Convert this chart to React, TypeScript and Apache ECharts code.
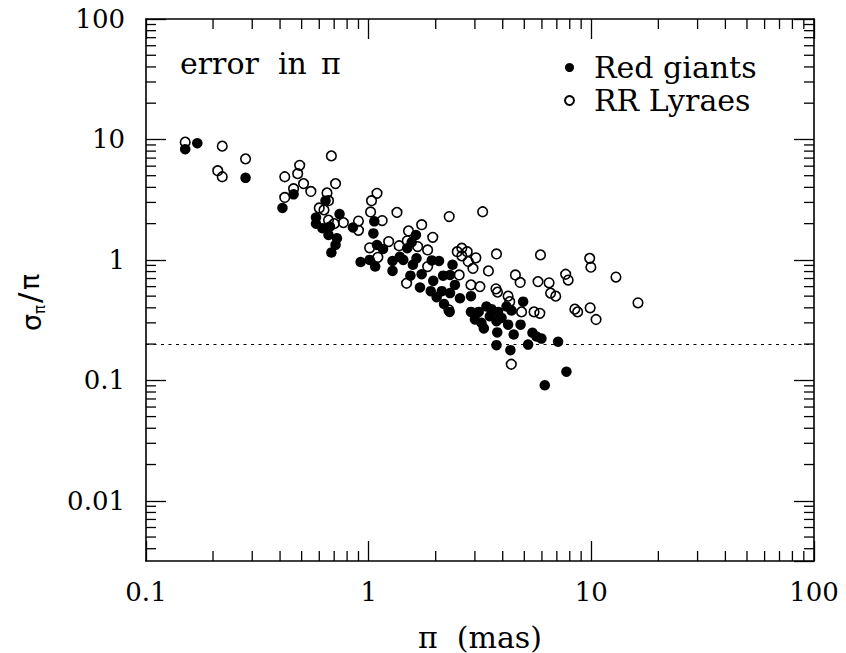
import React, { useEffect, useRef } from 'react';
import * as echarts from 'echarts';

// Red giants: [parallax (mas), sigma_pi / pi]
const redGiants: [number, number][] = [
  [0.15, 8.3], [0.17, 9.3], [0.28, 4.8], [0.41, 2.7], [0.46, 3.5], [0.64, 3.1], [0.74, 2.4],
  [0.58, 2.25], [0.58, 2.0], [0.62, 1.83], [0.67, 1.89], [0.66, 1.61], [0.72, 1.51], [0.71, 1.33],
  [0.68, 1.15], [0.85, 1.86], [1.06, 2.09], [1.05, 1.66], [1.09, 1.33], [0.92, 0.96], [1.01, 1.0],
  [1.07, 0.88], [1.16, 1.23], [1.28, 0.98], [1.28, 0.81], [1.38, 1.06], [1.43, 1.0], [1.49, 1.25],
  [1.56, 1.4], [1.63, 1.61], [1.58, 0.91], [1.54, 0.74], [1.64, 1.03], [1.73, 0.76], [1.7, 0.59],
  [1.92, 0.99], [2.07, 0.98], [1.95, 0.67], [1.9, 0.55], [2.02, 0.49], [2.13, 0.55], [2.18, 0.43],
  [2.31, 0.37], [2.16, 0.74], [2.32, 0.75], [2.38, 0.91], [2.44, 0.62], [2.57, 0.48], [2.32, 0.53],
  [2.88, 0.5], [2.88, 0.37], [3.12, 0.37], [3.0, 0.32], [3.29, 0.27], [3.38, 0.41], [3.56, 0.39],
  [3.5, 0.34], [3.81, 0.37], [3.95, 0.33], [3.78, 0.25], [4.23, 0.29], [4.81, 0.29], [4.48, 0.24],
  [4.16, 0.41], [4.38, 0.38], [4.94, 0.45], [3.21, 0.3], [3.75, 0.31], [3.75, 0.196], [4.33, 0.178],
  [5.2, 0.198], [5.44, 0.248], [5.67, 0.231], [5.97, 0.222], [7.09, 0.209], [7.73, 0.118], [6.18, 0.091],
];

// RR Lyraes: [parallax (mas), sigma_pi / pi]
const rrLyraes: [number, number][] = [
  [0.15, 9.5], [0.22, 8.8], [0.21, 5.5], [0.22, 4.9], [0.28, 6.9], [0.42, 4.9], [0.42, 3.3],
  [0.49, 6.1], [0.48, 5.2], [0.51, 4.3], [0.46, 3.9], [0.55, 3.7], [0.68, 7.3], [0.71, 4.3],
  [0.65, 3.6], [0.66, 3.1], [0.6, 2.7], [0.63, 2.6], [0.77, 2.04], [0.66, 2.14], [0.7, 2.0],
  [0.9, 2.1], [0.9, 1.76], [1.09, 3.57], [1.03, 3.1], [1.02, 2.5], [1.15, 2.12], [1.01, 1.26],
  [1.1, 1.05], [1.34, 2.48], [2.3, 2.29], [3.25, 2.51], [1.73, 1.96], [1.23, 1.42], [1.37, 1.31],
  [1.51, 1.74], [1.94, 1.54], [1.66, 1.29], [1.84, 1.21], [1.84, 0.88], [1.49, 1.44], [1.48, 0.64],
  [2.29, 0.385], [2.55, 0.75], [2.5, 1.17], [2.62, 1.25], [2.77, 1.17], [2.62, 1.08], [3.03, 1.04],
  [2.94, 0.85], [2.8, 0.97], [3.45, 0.81], [3.75, 1.12], [2.88, 0.62], [3.16, 0.6], [3.73, 0.575],
  [3.79, 0.54], [4.23, 0.5], [4.3, 0.45], [4.86, 0.37], [4.56, 0.75], [4.79, 0.65], [5.91, 1.1],
  [5.76, 0.66], [6.46, 0.645], [6.56, 0.53], [6.92, 0.5], [7.67, 0.76], [7.87, 0.68], [9.83, 1.03],
  [9.95, 0.87], [8.43, 0.39], [8.68, 0.37], [9.88, 0.4], [10.5, 0.32], [5.53, 0.37], [5.87, 0.36],
  [12.9, 0.72], [16.2, 0.44], [4.37, 0.136],
];

const seriesNames = ['Red giants', 'RR Lyraes'];
const xTickLabels = ['0.1', '1', '10', '100'];
const yTickLabels = ['0.01', '0.1', '1', '10', '100'];
const annotationWords = ['error', 'in', 'π'];
const yTitleParts = ['σ', 'π', '/', 'π'];
const xAxisTitle = 'π  (mas)';
const errorThreshold = 0.2;
const X_MIN = 0.1;
const X_MAX = 100;
const Y_MIN = Math.pow(10, -2.5);
const Y_MAX = 100;

function minorTickValues(lo: number, hi: number): number[] {
  const out: number[] = [];
  for (let e = -4; e <= 3; e++) {
    for (let m = 2; m <= 9; m++) {
      const v = +(m * Math.pow(10, e)).toPrecision(4);
      if (v > lo && v < hi) out.push(v);
    }
  }
  return out;
}

const SERIF = '"DejaVu Serif", "Liberation Serif", serif';
const SANS = '"DejaVu Sans", sans-serif';

function fmt(v: number, labels: string[]): string {
  const s = String(+Number(v).toPrecision(6));
  return labels.indexOf(s) >= 0 ? s : '';
}

export default function App() {
  const ref = useRef<HTMLDivElement>(null);

  useEffect(() => {
    document.body.style.margin = '0';
    if (!ref.current) return;
    const chart = echarts.init(ref.current, undefined, { renderer: 'svg' });

    const axisLine = { show: true, onZero: false, lineStyle: { color: '#000', width: 1.6 } };
    const majorTick = { show: true, inside: true, length: 20, lineStyle: { color: '#000', width: 1.3 } };

    const xMinor = minorTickValues(X_MIN, X_MAX).map((v) => [v, 1]);
    const yMinor = minorTickValues(Y_MIN, Y_MAX).map((v) => [1, v]);

    const tickStyle = { stroke: '#000', lineWidth: 1.3 };
    const wordX = [180, 278, 321];

    chart.setOption({
      animation: false,
      backgroundColor: '#fff',
      textStyle: { fontFamily: SERIF, color: '#000' },
      grid: { left: 146, right: 32, top: 19, bottom: 92, containLabel: false, outerBoundsMode: 'none' },
      legend: {
        data: [
          { name: seriesNames[0], icon: 'circle' },
          { name: seriesNames[1], icon: 'circle' },
        ],
        orient: 'vertical',
        left: 564,
        top: 51,
        padding: 0,
        itemWidth: 9,
        itemHeight: 9,
        itemGap: 0,
        selectedMode: false,
        textStyle: { fontFamily: SERIF, fontSize: 30, color: '#000', lineHeight: 33, padding: [0, 0, 0, 15] },
      },
      xAxis: [
        {
          type: 'log',
          min: X_MIN,
          max: X_MAX,
          position: 'bottom',
          axisLine,
          axisTick: majorTick,
          splitLine: { show: false },
          axisLabel: {
            color: '#000',
            fontFamily: SERIF,
            fontSize: 26,
            margin: 18,
            formatter: (v: number) => fmt(v, xTickLabels),
          },
          name: xAxisTitle,
          nameLocation: 'middle',
          nameGap: 61,
          nameTextStyle: { fontFamily: SERIF, fontSize: 30, color: '#000' },
        },
        {
          type: 'log',
          min: X_MIN,
          max: X_MAX,
          position: 'top',
          axisLine,
          axisTick: majorTick,
          splitLine: { show: false },
          axisLabel: { show: false },
        },
      ],
      yAxis: [
        {
          type: 'log',
          min: Y_MIN,
          max: Y_MAX,
          position: 'left',
          axisLine,
          axisTick: majorTick,
          splitLine: { show: false },
          axisLabel: {
            color: '#000',
            fontFamily: SERIF,
            fontSize: 26,
            margin: 21,
            showMinLabel: false,
            formatter: (v: number) => fmt(v, yTickLabels),
          },
        },
        {
          type: 'log',
          min: Y_MIN,
          max: Y_MAX,
          position: 'right',
          axisLine,
          axisTick: majorTick,
          splitLine: { show: false },
          axisLabel: { show: false },
        },
      ],
      graphic: [
        ...annotationWords.map((w, i) => ({
          type: 'text',
          x: wordX[i],
          y: 63,
          style: { text: w, font: `30px ${SERIF}`, fill: '#000', align: 'left', verticalAlign: 'middle' },
        })),
        {
          type: 'group',
          x: 31,
          y: 331,
          rotation: Math.PI / 2,
          children: [
            { type: 'text', x: 0, y: 0, style: { text: yTitleParts[0], font: `27px ${SANS}`, fill: '#000', align: 'left', verticalAlign: 'middle' } },
            { type: 'text', x: 17, y: 9, style: { text: yTitleParts[1], font: `15px ${SANS}`, fill: '#000', align: 'left', verticalAlign: 'middle' } },
            { type: 'text', x: 28, y: -2, style: { text: yTitleParts[2], font: `31px ${SANS}`, fill: '#000', align: 'left', verticalAlign: 'middle' } },
            { type: 'text', x: 41, y: -2, style: { text: yTitleParts[3], font: `27px ${SANS}`, fill: '#000', align: 'left', verticalAlign: 'middle' } },
          ],
        },
      ],
      series: [
        {
          name: seriesNames[1],
          type: 'scatter',
          data: rrLyraes,
          symbol: 'circle',
          symbolSize: 9.6,
          itemStyle: { color: 'rgba(255,255,255,0)', borderColor: '#000', borderWidth: 1.6, opacity: 1 },
          emphasis: { disabled: true },
          silent: true,
        },
        {
          name: seriesNames[0],
          type: 'scatter',
          data: redGiants,
          symbol: 'circle',
          symbolSize: 10.5,
          itemStyle: { color: '#000', opacity: 1 },
          emphasis: { disabled: true },
          silent: true,
          markLine: {
            silent: true,
            symbol: ['none', 'none'],
            label: { show: false },
            lineStyle: { color: '#000', width: 1.2, type: [3, 4.5] },
            data: [{ yAxis: errorThreshold }],
          },
        },
        {
          type: 'custom',
          silent: true,
          data: xMinor,
          renderItem: (params: any, api: any) => {
            const cs = params.coordSys;
            const p = api.coord([api.value(0), api.value(1)]);
            const bottom = cs.y + cs.height;
            return {
              type: 'group',
              children: [
                { type: 'line', shape: { x1: p[0], y1: bottom, x2: p[0], y2: bottom - 10 }, style: tickStyle },
                { type: 'line', shape: { x1: p[0], y1: cs.y, x2: p[0], y2: cs.y + 10 }, style: tickStyle },
              ],
            };
          },
        },
        {
          type: 'custom',
          silent: true,
          data: yMinor,
          renderItem: (params: any, api: any) => {
            const cs = params.coordSys;
            const p = api.coord([api.value(0), api.value(1)]);
            const right = cs.x + cs.width;
            return {
              type: 'group',
              children: [
                { type: 'line', shape: { x1: cs.x, y1: p[1], x2: cs.x + 10, y2: p[1] }, style: tickStyle },
                { type: 'line', shape: { x1: right, y1: p[1], x2: right - 10, y2: p[1] }, style: tickStyle },
              ],
            };
          },
        },
      ],
    });

    return () => chart.dispose();
  }, []);

  return <div ref={ref} style={{ width: 846, height: 653 }} />;
}
